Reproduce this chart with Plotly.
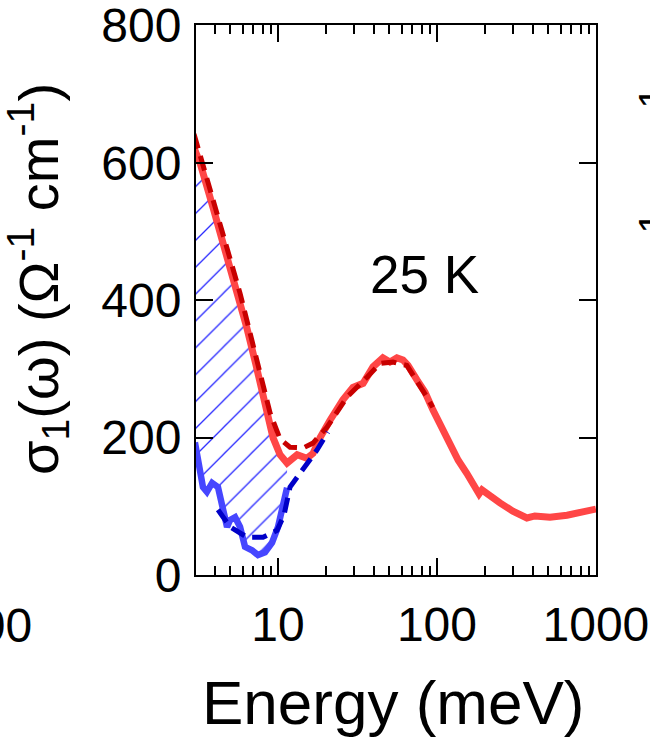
import plotly.graph_objects as go

# Optical conductivity at 25 K: measured spectrum (red), fit (dark red),
# low-energy spectrum below the gap (blue) and its fit (dark blue).
energy_meas = [2.96, 3.23, 3.90, 4.99, 5.77, 6.38, 7.28, 8.05, 8.65, 9.30, 10.3, 11.4,
               13.2, 15.2, 16.6, 18.4, 21.2, 25.6, 29.6, 34.3, 39.6, 45.7, 50.6,
               56.0, 61.1, 65.7, 74.8, 84.1, 94.4, 107, 121, 136, 154, 173, 184,
               192, 215, 249, 300, 368, 413, 514, 658, 793, 1000]
sigma_meas = [622, 600, 535, 451, 400, 359, 305, 265, 234, 200, 175, 163,
              175, 170, 177, 200, 225, 255, 273, 279, 303, 316, 310,
              316, 313, 305, 284, 266, 240, 215, 186, 167, 148, 128, 118,
              124, 115, 105, 93, 83, 86, 84, 87, 90, 96]

energy_fit = [2.96, 3.23, 3.90, 4.99, 5.77, 6.38, 7.28, 8.05, 8.91, 10.3, 11.9,
              14.4, 16.6, 20.3, 27.2, 36.3, 43.9, 52.9, 64.7, 86.5, 94.0]
sigma_fit = [642, 612, 545, 460, 410, 370, 318, 278, 236, 198, 186,
             185, 192, 215, 259, 288, 308, 310, 305, 259, 244]

energy_low = [3.0, 3.23, 3.37, 3.57, 3.85, 4.19, 4.51, 4.78, 4.99, 5.37, 5.77,
              6.20, 6.86, 7.48, 8.28, 9.17, 10.0, 10.7, 11.4]
sigma_low = [193, 157, 128, 121, 134, 128, 90, 70, 80, 84, 70,
             41, 36, 29, 33, 47, 70, 99, 127]

energy_low_fit = [4.19, 4.99, 6.38, 8.05, 9.86, 10.9, 11.9, 12.8, 15.2, 17.6, 20.6]
sigma_low_fit = [95, 70, 55, 55, 65, 87, 128, 138, 163, 182, 208]

x_tickvals = [10, 100, 1000]
x_ticktext = ["10", "100", "1000"]
x_minor = [4, 5, 6, 7, 8, 9, 20, 30, 40, 50, 60, 70, 80, 90,
           200, 300, 400, 500, 600, 700, 800, 900]
y_tickvals = [0, 200, 400, 600, 800]

label_temp = "25 K"
x_title = "Energy (meV)"
y_title = "σ<sub>1</sub>(ω) (Ω<sup>-1</sup> cm<sup>-1</sup>)"

FONT = "Liberation Sans, Arial, Helvetica, sans-serif"

# Hatched spectral weight between the measured curve and the low-energy curve
n_gap = sum(1 for e in energy_meas if e <= energy_low[-1])
hatch_x = energy_meas[:n_gap] + energy_low[::-1]
hatch_y = sigma_meas[:n_gap] + sigma_low[::-1]

fig = go.Figure()
fig.add_trace(go.Scatter(
    x=hatch_x, y=hatch_y, mode="lines", fill="toself",
    line=dict(width=0, color="rgba(0,0,0,0)"),
    fillcolor="rgba(0,0,0,0)",
    fillpattern=dict(shape="/", fgcolor="#2a2aff", bgcolor="rgba(0,0,0,0)",
                     size=19, solidity=0.07, fillmode="replace"),
    hoverinfo="skip", showlegend=False))
fig.add_trace(go.Scatter(x=energy_meas, y=sigma_meas, mode="lines",
                         line=dict(color="#ff4646", width=7), showlegend=False))
fig.add_trace(go.Scatter(x=energy_low, y=sigma_low, mode="lines",
                         line=dict(color="#4646ff", width=6.5), showlegend=False))
fig.add_trace(go.Scatter(x=energy_fit, y=sigma_fit, mode="lines",
                         line=dict(color="#c80000", width=5, dash="15px,8px"),
                         showlegend=False))
fig.add_trace(go.Scatter(x=energy_low_fit, y=sigma_low_fit, mode="lines",
                         line=dict(color="#0000c8", width=5, dash="15px,8px"),
                         showlegend=False))

L, T = 196, 25
W, H = 400, 550


def px(xp):
    return (xp - L) / W


def py(yp):
    return (T + H - yp) / H


annotations = [
    dict(text=label_temp, x=px(424), y=py(274), xref="paper", yref="paper",
         showarrow=False, xanchor="center", yanchor="middle",
         font=dict(size=53, color="black", family=FONT)),
    dict(text=x_title, x=px(393), y=py(702), xref="paper", yref="paper",
         showarrow=False, xanchor="center", yanchor="middle",
         font=dict(size=62, color="black", family=FONT)),
    dict(text=y_title, x=px(38), y=py(279), xref="paper", yref="paper",
         showarrow=False, xanchor="center", yanchor="middle", textangle=-90,
         font=dict(size=56, color="black", family=FONT)),
    # neighbouring panels sharing the figure
    dict(text="100", x=px(-8), y=py(625), xref="paper", yref="paper",
         showarrow=False, xanchor="center", yanchor="middle",
         font=dict(size=48, color="black", family=FONT)),
    dict(text=y_title, x=px(670), y=py(264), xref="paper", yref="paper",
         showarrow=False, xanchor="center", yanchor="middle", textangle=-90,
         font=dict(size=56, color="black", family=FONT)),
]

fig.update_layout(
    width=650, height=738,
    margin=dict(l=L, r=650 - L - W, t=T, b=738 - T - H, autoexpand=False),
    paper_bgcolor="white", plot_bgcolor="white",
    font=dict(family=FONT, size=48, color="black"),
    annotations=annotations,
)
fig.update_xaxes(
    type="log", range=[0.484, 3.0005], automargin=False,
    tickmode="array", tickvals=x_tickvals, ticktext=x_ticktext,
    ticks="inside", ticklen=17, tickwidth=2, tickcolor="black",
    showline=True, linewidth=2, linecolor="black", mirror="ticks",
    showgrid=False, zeroline=False, ticklabelstandoff=6,
    ticklabeloverflow="allow",
    tickfont=dict(size=48, family=FONT, color="black"),
    minor=dict(tickmode="array", tickvals=x_minor, ticks="inside",
               ticklen=9, tickwidth=2, tickcolor="black", showgrid=False),
)
fig.update_yaxes(
    range=[0, 800.6], automargin=False, tickmode="array", tickvals=y_tickvals,
    ticks="inside", ticklen=17, tickwidth=2, tickcolor="black",
    showline=True, linewidth=2, linecolor="black", mirror="ticks",
    showgrid=False, zeroline=False, ticklabelstandoff=3,
    ticklabeloverflow="allow",
    tickfont=dict(size=48, family=FONT, color="black"),
)

fig.write_html("out.html")
